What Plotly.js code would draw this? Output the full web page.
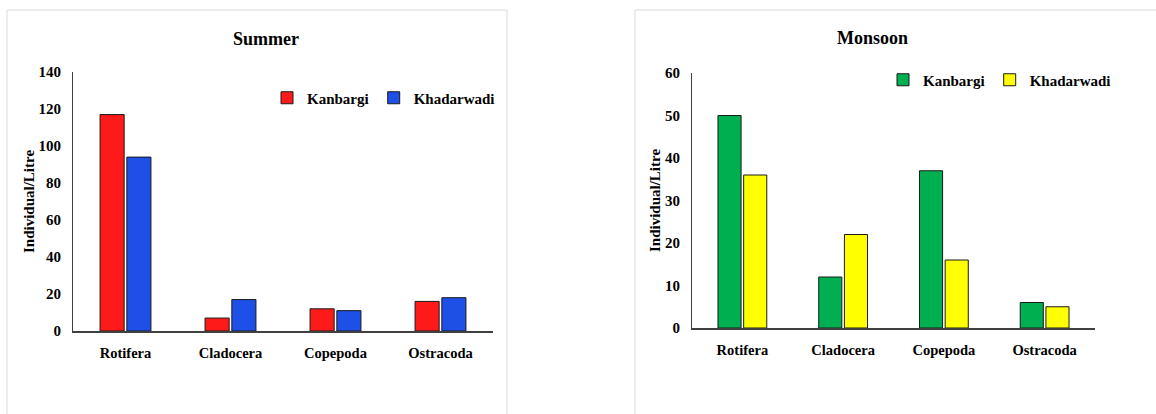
<!DOCTYPE html>
<html>
<head>
<meta charset="utf-8">
<script src="https://cdn.plot.ly/plotly-3.0.1.min.js"></script>
<style>html,body{margin:0;padding:0;background:#fff;}#chart{width:1156px;height:414px;}</style>
</head>
<body>
<div id="chart"></div>
<script>
const categories = ["Rotifera", "Cladocera", "Copepoda", "Ostracoda"];
const seriesNames = ["Kanbargi", "Khadarwadi"];
const summerKanbargi = [117, 7, 12, 16];
const summerKhadarwadi = [94, 17, 11, 18];
const monsoonKanbargi = [50, 12, 37, 6];
const monsoonKhadarwadi = [36, 22, 16, 5];
const panelTitles = ["Summer", "Monsoon"];
const yTitle = "Individual/Litre";

const W = 1156, H = 414;
const px = v => v / W;
const py = v => 1 - v / H;
const FONT = "'Liberation Serif', 'Times New Roman', serif";
const line = {color: "#1a1a1a", width: 1};

const traces = [
  {type: "bar", name: seriesNames[0], x: categories, y: summerKanbargi, xaxis: "x", yaxis: "y",
   marker: {color: "#FF1A1A", line: line}, legend: "legend"},
  {type: "bar", name: seriesNames[1], x: categories, y: summerKhadarwadi, xaxis: "x", yaxis: "y",
   marker: {color: "#1E4FE6", line: line}, legend: "legend"},
  {type: "bar", name: seriesNames[0], x: categories, y: monsoonKanbargi, xaxis: "x2", yaxis: "y2",
   marker: {color: "#00B050", line: line}, legend: "legend2"},
  {type: "bar", name: seriesNames[1], x: categories, y: monsoonKhadarwadi, xaxis: "x2", yaxis: "y2",
   marker: {color: "#FFFF00", line: line}, legend: "legend2"}
];

const xAxisBase = {
  showgrid: false, zeroline: false, showline: true, linecolor: "#404040", linewidth: 2,
  ticks: "", ticklabelstandoff: 8, fixedrange: true,
  tickfont: {family: FONT, size: 14.5, color: "#000", weight: "bold"}
};
const yAxisBase = {
  showgrid: false, zeroline: false, showline: true, linecolor: "#404040", linewidth: 1,
  ticks: "", ticklabelstandoff: 8, fixedrange: true,
  tickfont: {family: FONT, size: 15, color: "#000", weight: "bold"},
  title: {text: yTitle, standoff: 0, font: {family: FONT, size: 15, color: "#000", weight: "bold"}}
};

const legendFont = {family: FONT, size: 15, color: "#000", weight: "bold"};
const mkLegend = (x, y) => ({orientation: "h", x: px(x), y: py(y), xanchor: "left", yanchor: "middle",
  font: legendFont, bgcolor: "rgba(0,0,0,0)", itemwidth: 30, tracegroupgap: 0});

const layout = {
  width: W, height: H,
  margin: {l: 0, r: 0, t: 0, b: 0},
  paper_bgcolor: "#fff", plot_bgcolor: "#fff",
  showlegend: true,
  barmode: "group", bargap: 0.49, bargroupgap: 0.1,
  font: {family: FONT, color: "#000"},
  xaxis: Object.assign({}, xAxisBase, {domain: [px(73), px(493)], anchor: "y"}),
  yaxis: Object.assign({}, yAxisBase, {domain: [py(331), py(72)], anchor: "x", range: [0, 140], dtick: 20}),
  xaxis2: Object.assign({}, xAxisBase, {domain: [px(692), px(1095)], anchor: "y2"}),
  yaxis2: Object.assign({}, yAxisBase, {domain: [py(328), py(73)], anchor: "x2", range: [0, 60], dtick: 10}),
  legend: mkLegend(267, 98),
  legend2: mkLegend(883, 80),
  annotations: [
    {text: panelTitles[0], xref: "paper", yref: "paper", x: px(266), y: py(39), showarrow: false,
     xanchor: "center", yanchor: "middle", font: {family: FONT, size: 18, color: "#000", weight: "bold"}},
    {text: panelTitles[1], xref: "paper", yref: "paper", x: px(872), y: py(38), showarrow: false,
     xanchor: "center", yanchor: "middle", font: {family: FONT, size: 18, color: "#000", weight: "bold"}}
  ],
  shapes: [
    {type: "rect", xref: "paper", yref: "paper", x0: px(7), x1: px(507), y0: -0.1, y1: py(10),
     line: {color: "#d9d9d9", width: 1}, fillcolor: "rgba(0,0,0,0)", layer: "below"},
    {type: "rect", xref: "paper", yref: "paper", x0: px(635), x1: 1.1, y0: -0.1, y1: py(10),
     line: {color: "#d9d9d9", width: 1}, fillcolor: "rgba(0,0,0,0)", layer: "below"}
  ]
};

Plotly.newPlot("chart", traces, layout, {displayModeBar: false, staticPlot: true});
</script>
</body>
</html>
